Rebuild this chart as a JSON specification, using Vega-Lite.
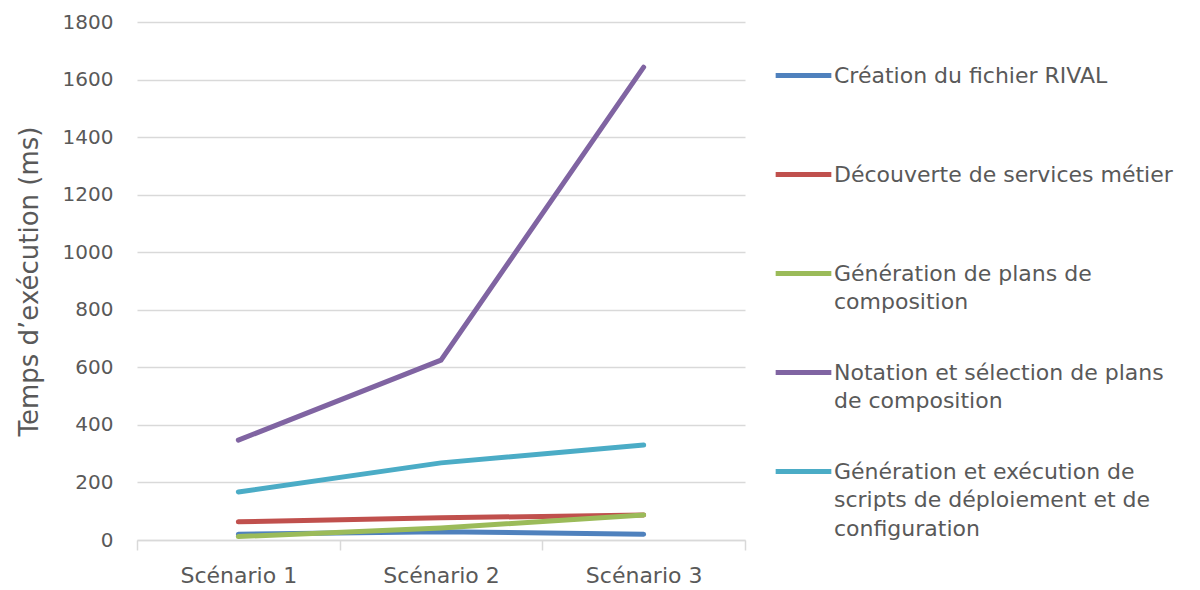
{
  "$schema": "https://vega.github.io/schema/vega-lite/v6.json",
  "width": 608,
  "height": 518,
  "autosize": {"type": "none"},
  "padding": {"left": 137, "top": 22, "right": 455, "bottom": 50},
  "background": "white",
  "config": {
    "view": {"stroke": null},
    "font": "DejaVu Sans",
    "style": {"guide-label": {"lineHeight": 28.5}}
  },
  "data": {
    "values": [
      {"serie": "Création du fichier RIVAL", "scenario": "Scénario 1", "temps": 20},
      {"serie": "Création du fichier RIVAL", "scenario": "Scénario 2", "temps": 29},
      {"serie": "Création du fichier RIVAL", "scenario": "Scénario 3", "temps": 20},
      {"serie": "Découverte de services métier", "scenario": "Scénario 1", "temps": 63},
      {"serie": "Découverte de services métier", "scenario": "Scénario 2", "temps": 77},
      {"serie": "Découverte de services métier", "scenario": "Scénario 3", "temps": 87},
      {"serie": "Génération de plans de composition", "scenario": "Scénario 1", "temps": 12},
      {"serie": "Génération de plans de composition", "scenario": "Scénario 2", "temps": 42},
      {"serie": "Génération de plans de composition", "scenario": "Scénario 3", "temps": 87},
      {"serie": "Notation et sélection de plans de composition", "scenario": "Scénario 1", "temps": 347},
      {"serie": "Notation et sélection de plans de composition", "scenario": "Scénario 2", "temps": 625},
      {"serie": "Notation et sélection de plans de composition", "scenario": "Scénario 3", "temps": 1643},
      {"serie": "Génération et exécution de scripts de déploiement et de configuration", "scenario": "Scénario 1", "temps": 167},
      {"serie": "Génération et exécution de scripts de déploiement et de configuration", "scenario": "Scénario 2", "temps": 268},
      {"serie": "Génération et exécution de scripts de déploiement et de configuration", "scenario": "Scénario 3", "temps": 330}
    ]
  },
  "mark": {"type": "line", "strokeWidth": 5, "strokeCap": "round"},
  "encoding": {
    "x": {
      "field": "scenario",
      "type": "ordinal",
      "bandPosition": 0.5,
      "scale": {"type": "band", "paddingInner": 0, "paddingOuter": 0},
      "axis": {
        "title": null,
        "labelAngle": 0,
        "labelFontSize": 22,
        "labelColor": "#595959",
        "domainColor": "#d9d9d9",
        "domainWidth": 1.5,
        "tickColor": "#d9d9d9",
        "tickWidth": 1.5,
        "tickSize": 10,
        "tickBand": "extent",
        "labelPadding": 15,
        "grid": false
      }
    },
    "y": {
      "field": "temps",
      "type": "quantitative",
      "scale": {"domain": [0, 1800], "nice": false},
      "axis": {
        "title": "Temps d’exécution (ms)",
        "titleFontSize": 26,
        "titleFontWeight": "normal",
        "titleColor": "#595959",
        "titlePadding": 20,
        "format": "d",
        "values": [0, 200, 400, 600, 800, 1000, 1200, 1400, 1600, 1800],
        "labelFontSize": 20,
        "labelColor": "#595959",
        "labelPadding": 24,
        "domain": false,
        "ticks": false,
        "gridColor": "#d9d9d9",
        "gridWidth": 1.5
      }
    },
    "color": {
      "field": "serie",
      "type": "nominal",
      "scale": {
        "domain": [
          "Création du fichier RIVAL",
          "Découverte de services métier",
          "Génération de plans de composition",
          "Notation et sélection de plans de composition",
          "Génération et exécution de scripts de déploiement et de configuration"
        ],
        "range": ["#4F81BD", "#C0504D", "#9BBB59", "#8064A2", "#4BACC6"]
      },
      "legend": {
        "title": null,
        "orient": "none",
        "legendX": 636,
        "legendY": 23,
        "padding": 0,
        "labelFontSize": 22,
        "labelColor": "#595959",
        "labelLimit": 500,
        "labelOffset": 0,
        "labelBaseline": "middle",
        "symbolType": "stroke",
        "symbolSize": 3100,
        "symbolStrokeWidth": 5,
        "gridAlign": "all",
        "rowPadding": 0,
        "labelExpr": "datum.label == 'Génération de plans de composition' ? ['Génération de plans de', 'composition'] : datum.label == 'Notation et sélection de plans de composition' ? ['Notation et sélection de plans', 'de composition'] : datum.label == 'Génération et exécution de scripts de déploiement et de configuration' ? ['Génération et exécution de', 'scripts de déploiement et de', 'configuration'] : datum.label"
      }
    }
  }
}
